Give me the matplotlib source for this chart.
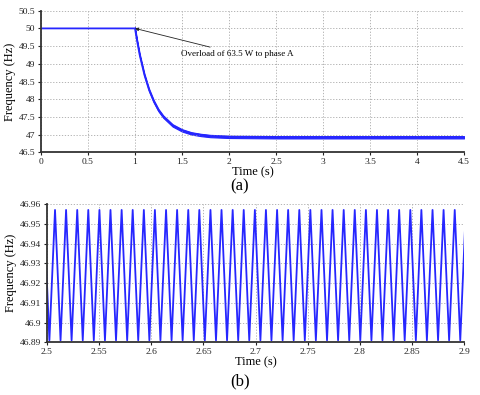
import matplotlib
matplotlib.use("Agg")
import matplotlib.pyplot as plt
import numpy as np

# (a) frequency response
t_a = [0.0, 1.0, 1.01, 1.02, 1.05, 1.1, 1.15, 1.2, 1.25, 1.3, 1.4, 1.5, 1.6,
       1.7, 1.8, 2.0, 2.5, 3.0, 3.5, 4.0, 4.5]
f_a = [50.0, 50.0, 49.84, 49.68, 49.25, 48.69, 48.26, 47.94, 47.69, 47.51,
       47.26, 47.12, 47.035, 46.99, 46.96, 46.937, 46.925, 46.925, 46.925,
       46.925, 46.925]

# (b) zoom on the ripple: peak / trough times and levels
peak_t = [2.4970, 2.5077, 2.5183, 2.5290, 2.5396, 2.5503, 2.5609, 2.5716,
          2.5822, 2.5929, 2.6035, 2.6142, 2.6248, 2.6355, 2.6461, 2.6568,
          2.6674, 2.6781, 2.6887, 2.6994, 2.7100, 2.7207, 2.7313, 2.7420,
          2.7526, 2.7633, 2.7739, 2.7846, 2.7952, 2.8059, 2.8165, 2.8272,
          2.8378, 2.8485, 2.8591, 2.8698, 2.8804, 2.8911, 2.9017]
trough_t = [2.5023, 2.5130, 2.5236, 2.5343, 2.5449, 2.5556, 2.5662, 2.5769,
            2.5875, 2.5982, 2.6088, 2.6195, 2.6301, 2.6408, 2.6514, 2.6621,
            2.6727, 2.6834, 2.6940, 2.7047, 2.7153, 2.7260, 2.7366, 2.7473,
            2.7579, 2.7686, 2.7792, 2.7899, 2.8005, 2.8112, 2.8218, 2.8325,
            2.8431, 2.8538, 2.8644, 2.8751, 2.8857, 2.8964]
peak_f = 46.957
trough_f = 46.891

xticks_a = [0, 0.5, 1, 1.5, 2, 2.5, 3, 3.5, 4, 4.5]
yticks_a = [46.5, 47, 47.5, 48, 48.5, 49, 49.5, 50, 50.5]
xticks_b = [2.5, 2.55, 2.6, 2.65, 2.7, 2.75, 2.8, 2.85, 2.9]
yticks_b = [46.89, 46.9, 46.91, 46.92, 46.93, 46.94, 46.95, 46.96]

plt.rcParams["font.family"] = ["Liberation Serif", "DejaVu Serif"]
blue = "#2626ff"


def style(ax, xt, yt):
    ax.set_xticks(xt)
    ax.set_yticks(yt)
    ax.set_xticklabels([f"{v:g}" for v in xt])
    ax.set_yticklabels([f"{v:g}" for v in yt])
    ax.tick_params(labelsize=6.8, length=2.5, width=0.8, pad=1.5, colors="#222222")
    ax.grid(True, color="#a8a8a8", linestyle=(0, (1.5, 2)), linewidth=0.6)
    ax.spines[["top", "right"]].set_visible(False)
    for s in ("left", "bottom"):
        ax.spines[s].set_linewidth(1.3)
        ax.spines[s].set_color("#333333")


fig = plt.figure(figsize=(4.8, 3.95), dpi=100)

ax1 = fig.add_axes([0.0854, 0.6144, 0.8813, 0.3585])
t_arr = np.array(t_a)
f_arr = np.array(f_a)
half = (peak_f - trough_f) / 2
ripple = t_arr >= 1.0
ax1.fill_between(t_arr[ripple], f_arr[ripple] - half, f_arr[ripple] + half,
                 color=blue, linewidth=0.8, edgecolor=blue)
ax1.plot(t_arr, f_arr, color=blue, linewidth=1.3)
ax1.set_xlim(0, 4.5)
ax1.set_ylim(46.5, 50.5)
style(ax1, xticks_a, yticks_a)
ax1.set_xlabel("Time (s)", fontsize=9, labelpad=0)
ax1.set_ylabel("Frequency (Hz)", fontsize=9, labelpad=2)
ax1.annotate("Overload of 63.5 W to phase A", xy=(1.0, 50.0), xytext=(1.49, 49.28),
             fontsize=6.5, ha="left", va="center",
             arrowprops=dict(arrowstyle="-|>", color="#222222", lw=0.6,
                             mutation_scale=5, shrinkA=0, shrinkB=0))
fig.text(0.5, 1 - 186 / 395, "(a)", ha="center", va="center", fontsize=12)

ax2 = fig.add_axes([0.0979, 0.1334, 0.8688, 0.3501])
pts = sorted([(t, peak_f) for t in peak_t] + [(t, trough_f) for t in trough_t])
ax2.plot([p[0] for p in pts], [p[1] for p in pts], color=blue, linewidth=1.3,
         solid_joinstyle="round")
ax2.set_xlim(2.5, 2.9)
ax2.set_ylim(46.89, 46.96)
style(ax2, xticks_b, yticks_b)
ax2.set_xlabel("Time (s)", fontsize=9, labelpad=0)
ax2.set_ylabel("Frequency (Hz)", fontsize=9, labelpad=2)
fig.text(0.5, 1 - 381 / 395, "(b)", ha="center", va="center", fontsize=12)

fig.savefig("out.png", dpi=100)
